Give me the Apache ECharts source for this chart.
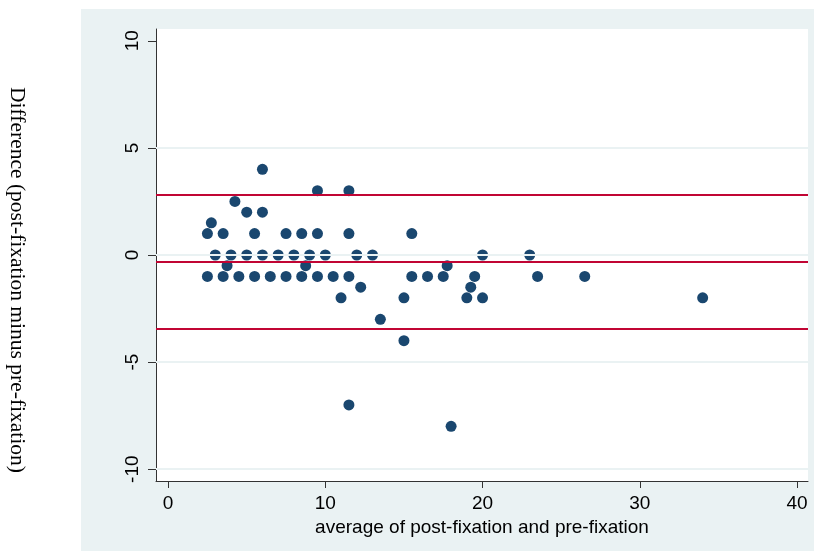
<!DOCTYPE html>
<html>
<head>
<meta charset="utf-8">
<title>Bland-Altman: post-fixation vs pre-fixation</title>
<script src="https://cdn.jsdelivr.net/npm/echarts@6/dist/echarts.min.js"></script>
<style>
  html, body { margin: 0; padding: 0; background: #ffffff; }
  #chart { width: 814px; height: 551px; }
</style>
</head>
<body>
<div id="chart"></div>
<script>
// Average of the two measurements (x) and their difference (y), one entry per subject
const avgValues = [
  6,
  9.5, 11.5,
  4.25,
  5, 6,
  2.75,
  2.5, 3.5, 5.5, 7.5, 8.5, 9.5, 11.5, 15.5,
  3, 4, 5, 6, 7, 8, 9, 10, 12, 13, 20, 23,
  3.75, 8.75, 17.75,
  2.5, 3.5, 4.5, 5.5, 6.5, 7.5, 8.5, 9.5, 10.5, 11.5, 15.5, 16.5, 17.5, 19.5, 23.5, 26.5,
  12.25, 19.25,
  11, 15, 19, 20, 34,
  13.5,
  15,
  11.5,
  18
];
const diffValues = [
  4,
  3, 3,
  2.5,
  2, 2,
  1.5,
  1, 1, 1, 1, 1, 1, 1, 1,
  0, 0, 0, 0, 0, 0, 0, 0, 0, 0, 0, 0,
  -0.5, -0.5, -0.5,
  -1, -1, -1, -1, -1, -1, -1, -1, -1, -1, -1, -1, -1, -1, -1, -1,
  -1.5, -1.5,
  -2, -2, -2, -2, -2,
  -3,
  -4,
  -7,
  -8
];

// Mean difference and 95% limits of agreement
const upperLimit = 2.80;
const meanDiff = -0.32;
const lowerLimit = -3.44;
const limitLines = [upperLimit, meanDiff, lowerLimit];

// Tick positions
const xTicks = [0, 10, 20, 30, 40];
const yTicks = [-10, -5, 0, 5, 10];
const yGridLines = [-10, -5, 0, 5];

const points = avgValues.map((v, i) => [v, diffValues[i]]);

const labelFont = '"Liberation Sans", Arial, Helvetica, sans-serif';
const chart = echarts.init(document.getElementById('chart'), null, { renderer: 'canvas' });

chart.setOption({
  animation: false,
  backgroundColor: '#ffffff',
  graphic: [
    {
      type: 'rect',
      z: -10,
      silent: true,
      shape: { x: 81, y: 9, width: 733, height: 542 },
      style: { fill: '#eaf2f3' }
    },
    {
      type: 'text',
      silent: true,
      x: 17,
      y: 280,
      rotation: -Math.PI / 2,
      style: {
        text: 'Difference (post-fixation minus pre-fixation)',
        font: '21.5px "Liberation Serif", "Times New Roman", serif',
        fill: '#000000',
        align: 'center',
        verticalAlign: 'middle'
      }
    }
  ],
  grid: {
    left: 156,
    top: 29,
    right: 6,
    bottom: 70,
    show: true,
    backgroundColor: '#ffffff',
    borderWidth: 0,
    borderColor: 'transparent'
  },
  xAxis: {
    type: 'value',
    min: -0.77,
    max: 40.7,
    name: 'average of post-fixation and pre-fixation',
    nameLocation: 'middle',
    nameGap: 30,
    nameTextStyle: { fontFamily: labelFont, fontSize: 19, color: '#000000' },
    axisLine: { show: true, onZero: false, lineStyle: { color: '#333333', width: 1 } },
    axisTick: { show: true, length: 7, customValues: xTicks, lineStyle: { color: '#333333' } },
    axisLabel: { customValues: xTicks, fontFamily: labelFont, fontSize: 19, color: '#000000', margin: 13 },
    splitLine: { show: false }
  },
  yAxis: {
    type: 'value',
    min: -10.55,
    max: 10.55,
    axisLine: { show: true, onZero: false, lineStyle: { color: '#333333', width: 1 } },
    axisTick: { show: true, length: 8, customValues: yTicks, lineStyle: { color: '#333333' } },
    axisLabel: { customValues: yTicks, rotate: 90, fontFamily: labelFont, fontSize: 19, color: '#000000', margin: 14 },
    splitLine: { show: false }
  },
  series: [
    {
      name: 'grid',
      type: 'line',
      data: [],
      silent: true,
      markLine: {
        silent: true,
        symbol: 'none',
        label: { show: false },
        lineStyle: { color: '#eaf2f3', width: 2, type: 'solid' },
        data: yGridLines.map(v => ({ yAxis: v }))
      },
      z: 1
    },
    {
      name: 'limits',
      type: 'line',
      data: [],
      silent: true,
      markLine: {
        silent: true,
        symbol: 'none',
        label: { show: false },
        lineStyle: { color: '#c10534', width: 2, type: 'solid' },
        data: limitLines.map(v => ({ yAxis: v }))
      },
      z: 2
    },
    {
      name: 'difference',
      type: 'scatter',
      data: points,
      symbol: 'circle',
      symbolSize: 11,
      itemStyle: { color: '#1a476f', opacity: 1 },
      z: 3
    }
  ]
});
</script>
</body>
</html>
